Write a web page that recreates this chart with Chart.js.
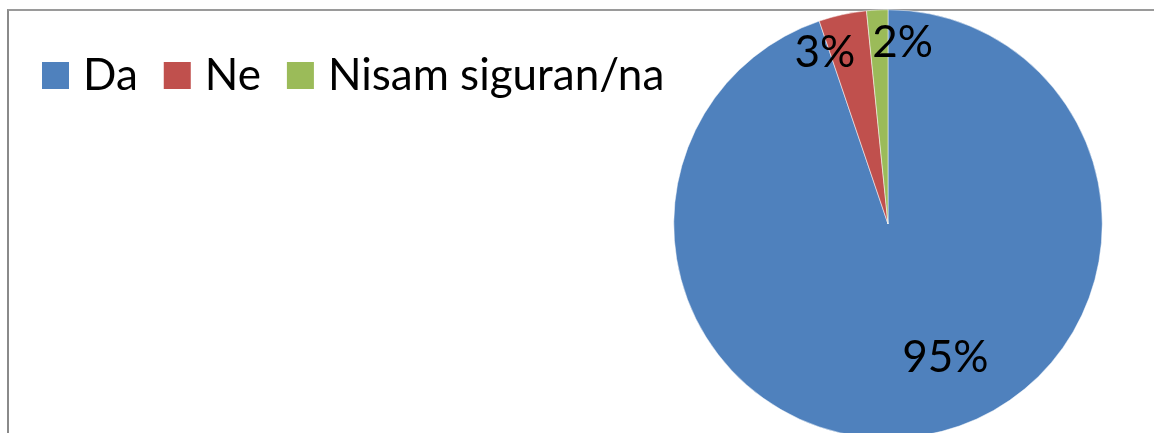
<!DOCTYPE html>
<html>
<head>
<meta charset="utf-8">
<script src="https://cdn.jsdelivr.net/npm/chart.js@4/dist/chart.umd.min.js"></script>
<style>
  html, body { margin: 0; padding: 0; background: #fff; overflow: hidden; }
  #wrap { position: relative; width: 1154px; height: 433px; overflow: hidden; }
  #frame { position: absolute; left: 7px; top: 9px; width: 1300px; height: 600px;
           border-left: 2px solid #8a8a8a; border-top: 2px solid #9a9a9a; }
  #pie { position: absolute; left: 0; top: 0; }
</style>
</head>
<body>
<div id="wrap">
  <div id="frame"></div>
  <canvas id="pie" width="1154" height="450"></canvas>
</div>
<script>
// Chart data
const categories = ['Da', 'Ne', 'Nisam siguran/na'];
const shares = [94.8, 3.6, 1.6];
const pctLabels = ['95%', '3%', '2%'];
const colors = ['#4F81BD', '#C0504D', '#9BBB59'];

// label placement: fraction of radius + sideways nudge
const labelRadius = [0.70, 0.75, 0.78];
const labelShift = [33, -29, 23];

const FONT = '44px Lato, "Open Sans", sans-serif';

const legendRow = {
    id: 'legendRow',
    afterDraw(chart) {
        const ctx = chart.ctx;
        ctx.save();
        ctx.font = FONT;
        ctx.textBaseline = 'alphabetic';
        ctx.textAlign = 'left';
        let x = 42;
        chart.data.labels.forEach((label, i) => {
            ctx.fillStyle = chart.data.datasets[0].backgroundColor[i];
            ctx.fillRect(x, 62, 27, 27);
            ctx.fillStyle = '#000';
            ctx.fillText(label, x + 41, 90);
            x += 41 + ctx.measureText(label).width + 26;
        });
        ctx.restore();
    }
};

const sliceLabels = {
    id: 'sliceLabels',
    afterDatasetsDraw(chart) {
        const ctx = chart.ctx;
        const arcs = chart.getDatasetMeta(0).data;
        ctx.save();
        ctx.font = FONT;
        ctx.fillStyle = '#000';
        ctx.textAlign = 'center';
        ctx.textBaseline = 'alphabetic';
        arcs.forEach((arc, i) => {
            const mid = (arc.startAngle + arc.endAngle) / 2;
            const r = arc.outerRadius * labelRadius[i];
            const x = arc.x + Math.cos(mid) * r + labelShift[i];
            const y = arc.y + Math.sin(mid) * r;
            ctx.fillText(pctLabels[i], x, y);
        });
        ctx.restore();
    }
};

document.addEventListener('DOMContentLoaded', function() {
    const ctx = document.getElementById('pie').getContext('2d');
    new Chart(ctx, {
        type: 'pie',
        data: {
            labels: categories,
            datasets: [{
                data: shares,
                backgroundColor: colors,
                borderColor: '#ffffff',
                borderWidth: 0.5
            }]
        },
        options: {
            responsive: false,
            animation: false,
            layout: {
                padding: { left: 673, right: 51, top: 9.5, bottom: 11.5 }
            },
            plugins: {
                legend: { display: false },
                tooltip: { enabled: false }
            }
        },
        plugins: [sliceLabels, legendRow]
    });
});
</script>
</body>
</html>
